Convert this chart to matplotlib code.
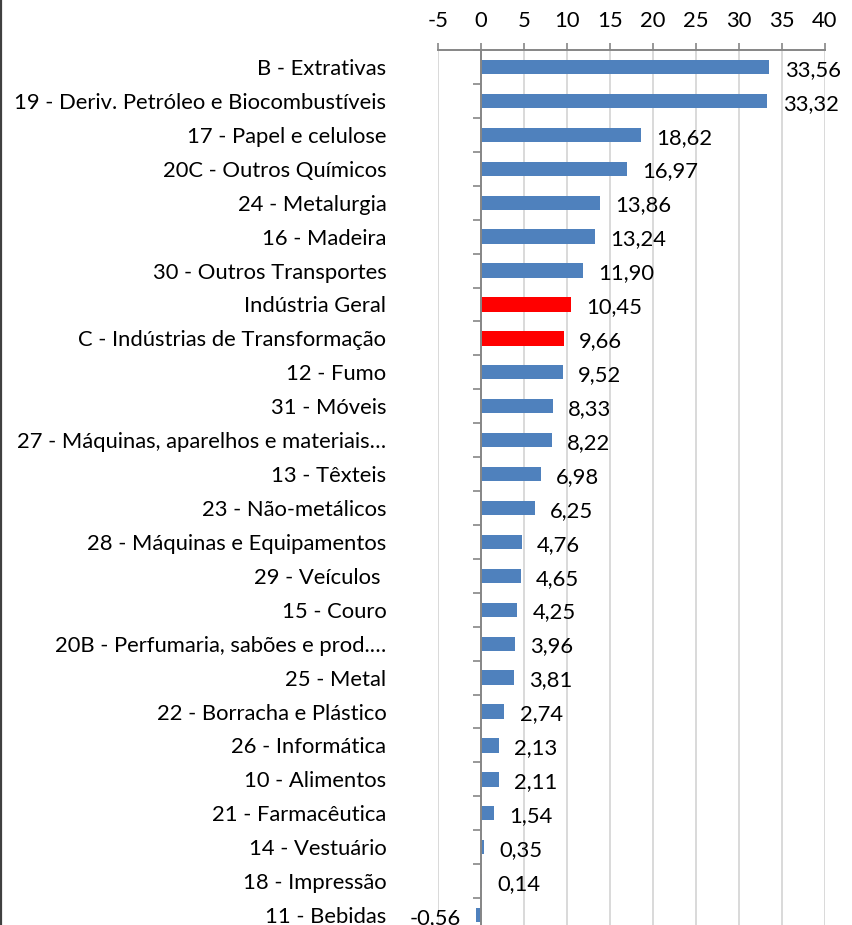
import matplotlib
matplotlib.use("Agg")
import matplotlib.pyplot as plt
from matplotlib.lines import Line2D
import numpy as np

plt.rcParams["font.family"] = ["Lato", "DejaVu Sans"]
plt.rcParams["axes.unicode_minus"] = False

categories = [
    "B - Extrativas",
    "19 - Deriv. Petróleo e Biocombustíveis",
    "17 - Papel e celulose",
    "20C - Outros Químicos",
    "24 - Metalurgia",
    "16 - Madeira",
    "30 - Outros Transportes",
    "Indústria Geral",
    "C - Indústrias de Transformação",
    "12 - Fumo",
    "31 - Móveis",
    "27 - Máquinas, aparelhos e materiais…",
    "13 - Têxteis",
    "23 - Não-metálicos",
    "28 - Máquinas e Equipamentos",
    "29 - Veículos ",
    "15 - Couro",
    "20B - Perfumaria, sabões e prod.…",
    "25 - Metal",
    "22 - Borracha e Plástico",
    "26 - Informática",
    "10 - Alimentos",
    "21 - Farmacêutica",
    "14 - Vestuário",
    "18 - Impressão",
    "11 - Bebidas",
]
values = [33.56, 33.32, 18.62, 16.97, 13.86, 13.24, 11.90, 10.45, 9.66, 9.52,
          8.33, 8.22, 6.98, 6.25, 4.76, 4.65, 4.25, 3.96, 3.81, 2.74,
          2.13, 2.11, 1.54, 0.35, 0.14, -0.56]
highlight = {"Indústria Geral", "C - Indústrias de Transformação"}
x_ticks = [-5, 0, 5, 10, 15, 20, 25, 30, 35, 40]

BLUE, RED, AXIS_GRAY, GRID = "#4f81bd", "#ff0000", "#868686", "#d9d9d9"
FS = 15.8

fig = plt.figure(figsize=(8.52, 9.25), dpi=100)
ax = fig.add_axes([0.514, -0.0076, 0.454, 0.9535])

y = np.arange(len(categories))
colors = [RED if c in highlight else BLUE for c in categories]
bars = ax.barh(y, values, height=0.42, color=colors, zorder=3)
labels = [f"{v:.2f}".replace(".", ",") for v in values]
for t in ax.bar_label(bars, labels=labels, padding=11, fontsize=FS):
    # Excel sits the value labels a touch below the bar centre
    dx, dy = t.xyann
    t.xyann = (dx, dy - 2)

ax.set_xlim(-5, 40)
ax.set_ylim(len(categories) - 0.5, -0.5)

# x axis on top
ax.xaxis.tick_top()
ax.set_xticks(x_ticks)
ax.tick_params(axis="x", direction="out", length=5, width=1.2, color=AXIS_GRAY,
               pad=9, labelsize=FS)
ax.grid(axis="x", color=GRID, lw=1.4, zorder=0)

# category axis at x = 0
ax.spines["left"].set_position(("data", 0))
ax.set_yticks(y)
ax.set_yticklabels(categories, fontsize=FS)
ax.set_yticks(np.arange(-0.5, len(categories), 1), minor=True)
ax.tick_params(axis="y", which="major", length=0, pad=68)
ax.tick_params(axis="y", which="minor", direction="out", length=6, width=1.2,
               color=AXIS_GRAY)

for s in ("right", "bottom"):
    ax.spines[s].set_visible(False)
for s in ("top", "left"):
    ax.spines[s].set_color(AXIS_GRAY)
    ax.spines[s].set_linewidth(1.4)
    ax.spines[s].set_zorder(4)

# chart border visible on the left edge
fig.add_artist(Line2D([0.0015, 0.0015], [0, 1], transform=fig.transFigure,
                      color="#404040", lw=1.6))

fig.savefig("out.png", dpi=100)
